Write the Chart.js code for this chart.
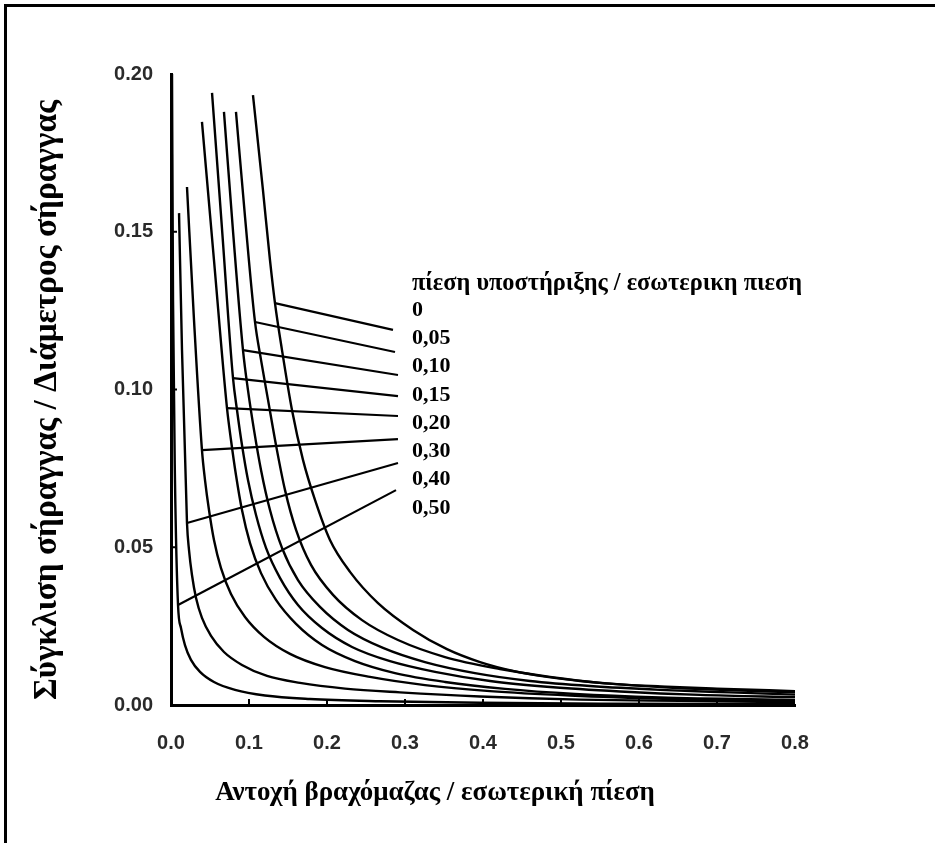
<!DOCTYPE html>
<html>
<head>
<meta charset="utf-8">
<script src="https://cdn.jsdelivr.net/npm/chart.js@4.4.0/dist/chart.umd.min.js"></script>
<style>
  html, body { margin: 0; padding: 0; background: #fff; }
  #wrap { position: relative; width: 935px; height: 843px; overflow: hidden; }
  #frame { position: absolute; left: 4px; top: 4px; right: 0; bottom: 0;
           border-top: 3px solid #000; border-left: 3px solid #000; pointer-events: none; }
</style>
</head>
<body>
<div id="wrap">
  <canvas id="chart" width="935" height="843"></canvas>
  <div id="frame"></div>
</div>
<script>
// support pressure / in-situ stress ratios, one curve each
const supportRatios = ["0", "0,05", "0,10", "0,15", "0,20", "0,30", "0,40", "0,50"];

// [rock mass strength / stress, closure / diameter]
const curveP000 = [[0.1051,0.1933],[0.1179,0.1632],[0.1269,0.1410],[0.1333,0.1274],[0.1423,0.1125],[0.1551,0.0935],
  [0.1692,0.0777],[0.1846,0.0650],[0.2038,0.0523],[0.2295,0.0422],[0.2654,0.0323],[0.3103,0.0238],[0.3538,0.0177],
  [0.3962,0.0136],[0.4385,0.0108],[0.4821,0.0089],[0.5244,0.0076],[0.5667,0.0067],[0.6269,0.0059],[0.7000,0.0052],[0.8000,0.0044]];
const curveP005 = [[0.0833,0.1880],[0.0949,0.1547],[0.1077,0.1214],[0.1154,0.1094],[0.1244,0.0967],[0.1346,0.0824],
  [0.1462,0.0681],[0.1603,0.0555],[0.1795,0.0444],[0.2077,0.0349],[0.2449,0.0269],[0.2910,0.0206],[0.3513,0.0152],
  [0.4218,0.0114],[0.4859,0.0089],[0.5500,0.0070],[0.6269,0.0057],[0.7038,0.0048],[0.8000,0.0040]];
const curveP010 = [[0.0679,0.1880],[0.0795,0.1502],[0.0923,0.1125],[0.0987,0.0998],[0.1064,0.0872],[0.1154,0.0745],
  [0.1269,0.0618],[0.1423,0.0498],[0.1628,0.0396],[0.1910,0.0311],[0.2269,0.0238],[0.2718,0.0181],[0.3256,0.0136],
  [0.3897,0.0101],[0.4603,0.0076],[0.5372,0.0060],[0.6269,0.0048],[0.7167,0.0040],[0.8000,0.0033]];
const curveP015 = [[0.0526,0.1940],[0.0654,0.1509],[0.0795,0.1036],[0.0846,0.0935],[0.0910,0.0824],[0.0987,0.0713],
  [0.1090,0.0602],[0.1218,0.0498],[0.1397,0.0403],[0.1628,0.0317],[0.1936,0.0244],[0.2321,0.0184],[0.2808,0.0139],
  [0.3385,0.0105],[0.4090,0.0076],[0.4859,0.0057],[0.5756,0.0043],[0.6782,0.0032],[0.8000,0.0025]];
const curveP020 = [[0.0397,0.1848],[0.0551,0.1410],[0.0718,0.0941],[0.0769,0.0840],[0.0833,0.0729],[0.0910,0.0618],
  [0.1013,0.0513],[0.1154,0.0418],[0.1346,0.0333],[0.1603,0.0257],[0.1936,0.0190],[0.2359,0.0139],[0.2872,0.0101],
  [0.3513,0.0073],[0.4282,0.0051],[0.5179,0.0035],[0.6269,0.0024],[0.8000,0.0016]];
const curveP030 = [[0.0205,0.1642],[0.0295,0.1220],[0.0397,0.0808],[0.0436,0.0713],[0.0487,0.0618],[0.0551,0.0523],
  [0.0641,0.0434],[0.0769,0.0352],[0.0949,0.0279],[0.1192,0.0216],[0.1526,0.0162],[0.1974,0.0120],[0.2551,0.0089],
  [0.3256,0.0063],[0.4090,0.0044],[0.5115,0.0030],[0.6397,0.0019],[0.8000,0.0011]];
const curveP040 = [[0.0103,0.1559],[0.0141,0.1125],[0.0205,0.0577],[0.0231,0.0491],[0.0269,0.0412],[0.0321,0.0339],
  [0.0397,0.0276],[0.0513,0.0219],[0.0679,0.0168],[0.0910,0.0127],[0.1231,0.0092],[0.1654,0.0070],[0.2231,0.0052],
  [0.2936,0.0040],[0.3962,0.0027],[0.5244,0.0017],[0.6526,0.0013],[0.8000,0.0009]];
const curveP050 = [[0.0013,0.2000],[0.0026,0.1284],[0.0051,0.0713],[0.0090,0.0317],[0.0128,0.0244],[0.0179,0.0190],
  [0.0256,0.0143],[0.0372,0.0105],[0.0551,0.0073],[0.0821,0.0048],[0.1205,0.0030],[0.1782,0.0019],[0.2679,0.0012],
  [0.3962,0.0007],[0.5500,0.0004],[0.8000,0.0003]];

// leader lines from each curve to its label
const leaderStart = [[0.1333,0.1274],[0.1077,0.1214],[0.0923,0.1125],[0.0795,0.1036],[0.0718,0.0941],[0.0397,0.0808],[0.0205,0.0577],[0.0090,0.0317]];
const leaderEnd = [[0.2846,0.1189],[0.2872,0.1119],[0.2910,0.1046],[0.2910,0.0979],[0.2910,0.0916],[0.2910,0.0843],[0.2910,0.0767],[0.2885,0.0681]];

const xTicks = [0, 0.1, 0.2, 0.3, 0.4, 0.5, 0.6, 0.7, 0.8];
const yTicks = [0, 0.05, 0.10, 0.15, 0.20];

const curves = [curveP000, curveP005, curveP010, curveP015, curveP020, curveP030, curveP040, curveP050];

const datasets = [];
curves.forEach((c, i) => {
  datasets.push({
    label: supportRatios[i],
    data: c.map(p => ({ x: p[0], y: p[1] })),
    showLine: true, borderColor: "#000", borderWidth: 2.4, pointRadius: 0,
    cubicInterpolationMode: "monotone", fill: false
  });
});
leaderStart.forEach((s, i) => {
  datasets.push({
    label: "leader " + supportRatios[i],
    data: [{ x: s[0], y: s[1] }, { x: leaderEnd[i][0], y: leaderEnd[i][1] }],
    showLine: true, borderColor: "#000", borderWidth: 2.2, pointRadius: 0, tension: 0
  });
});

function fitFont(ctx, text, family, target) {
  ctx.font = "bold 100px " + family;
  const w = ctx.measureText(text).width;
  ctx.font = "bold " + (100 * target / w).toFixed(2) + "px " + family;
}

// small tick marks drawn inside the axes, like the scan
const innerTicks = {
  id: "innerTicks",
  afterDatasetsDraw(chart) {
    const ctx = chart.ctx, xs = chart.scales.x, ys = chart.scales.y;
    const a = chart.chartArea;
    ctx.save();
    ctx.strokeStyle = "#000";
    ctx.lineWidth = 2;
    ctx.beginPath();
    yTicks.slice(1, -1).forEach(v => {
      const y = ys.getPixelForValue(v);
      ctx.moveTo(a.left, y); ctx.lineTo(a.left + 6, y);
    });
    xTicks.slice(1, -1).forEach(v => {
      const x = xs.getPixelForValue(v);
      ctx.moveTo(x, a.bottom); ctx.lineTo(x, a.bottom - 6);
    });
    ctx.stroke();
    ctx.restore();
  }
};

const textPlugin = {
  id: "texts",
  afterDraw(chart) {
    const ctx = chart.ctx;
    const serif = "'Liberation Serif', 'DejaVu Serif', serif";
    ctx.save();
    ctx.fillStyle = "#000";
    ctx.textBaseline = "middle";

    // y axis title
    ctx.save();
    ctx.translate(47, 400);
    ctx.rotate(-Math.PI / 2);
    ctx.textAlign = "center";
    fitFont(ctx, "Σύγκλιση σήραγγας / Διάμετρος σήραγγας", serif, 600);
    ctx.fillText("Σύγκλιση σήραγγας / Διάμετρος σήραγγας", 0, 0);
    ctx.restore();

    // x axis title
    ctx.textAlign = "center";
    fitFont(ctx, "Αντοχή βραχόμαζας / εσωτερική πίεση", serif, 440);
    ctx.fillText("Αντοχή βραχόμαζας / εσωτερική πίεση", 435, 793);

    // label block
    ctx.textAlign = "left";
    fitFont(ctx, "πίεση υποστήριξης / εσωτερικη πιεση", serif, 390);
    ctx.fillText("πίεση υποστήριξης / εσωτερικη πιεση", 412, 284);
    ctx.font = "bold 22px " + serif;
    supportRatios.forEach((r, i) => {
      ctx.fillText(r, 412, 310 + i * 28.3);
    });
    ctx.restore();
  }
};

const tickFont = { family: "'Liberation Sans', Arial, sans-serif", size: 20, weight: "bold" };

new Chart(document.getElementById("chart"), {
  type: "scatter",
  data: { datasets: datasets },
  options: {
    responsive: false,
    animation: false,
    layout: { padding: { top: 74, right: 140, left: 0, bottom: 0 } },
    plugins: { legend: { display: false }, tooltip: { enabled: false } },
    scales: {
      x: {
        type: "linear", min: 0, max: 0.8,
        afterBuildTicks: (s) => { s.ticks = xTicks.map(v => ({ value: v })); },
        afterFit: (s) => { s.height = 138; },
        ticks: { font: tickFont, color: "#2a2a2a", padding: 26, callback: (v) => v.toFixed(1) },
        grid: { display: false, drawTicks: false },
        border: { display: true, color: "#000", width: 3 }
      },
      y: {
        type: "linear", min: 0, max: 0.2,
        afterBuildTicks: (s) => { s.ticks = yTicks.map(v => ({ value: v })); },
        afterFit: (s) => { s.width = 171; },
        ticks: { font: tickFont, color: "#2a2a2a", padding: 18, callback: (v) => v.toFixed(2) },
        grid: { display: false, drawTicks: false },
        border: { display: true, color: "#000", width: 3 }
      }
    }
  },
  plugins: [innerTicks, textPlugin]
});
</script>
</body>
</html>
